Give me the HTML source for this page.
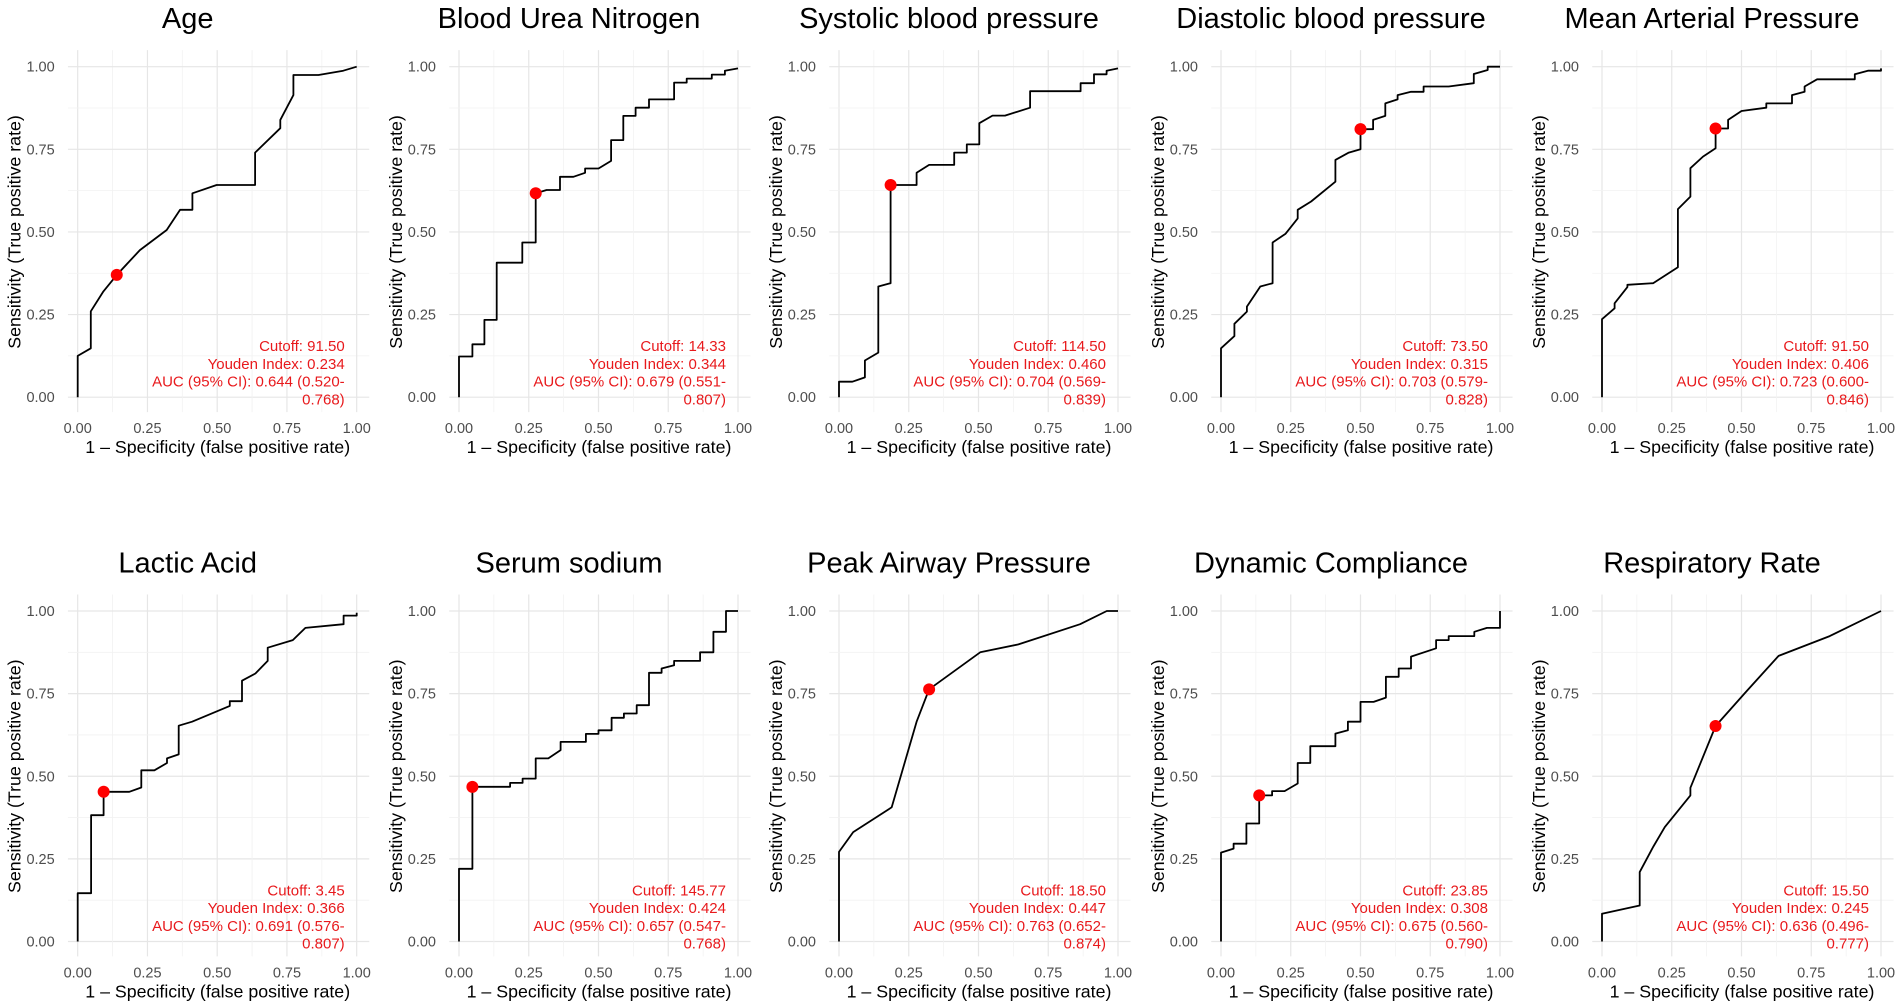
<!DOCTYPE html>
<html><head><meta charset="utf-8"><style>
html,body{margin:0;padding:0;background:#fff;}
svg{display:block;font-family:"Liberation Sans",sans-serif;}
</style></head><body>
<svg id="chart" width="1902" height="1007" viewBox="0 0 1902 1007" xmlns="http://www.w3.org/2000/svg"></svg>
<script>
const titles = ["Age","Blood Urea Nitrogen","Systolic blood pressure","Diastolic blood pressure","Mean Arterial Pressure","Lactic Acid","Serum sodium","Peak Airway Pressure","Dynamic Compliance","Respiratory Rate"];
const rocAge = [[0,0],[0,.125],[.047,.148],[.047,.26],[.092,.32],[.14,.37],[.223,.445],[.319,.506],[.367,.567],[.411,.567],[.411,.617],[.498,.642],[.636,.642],[.636,.74],[.726,.814],[.726,.839],[.773,.914],[.773,.975],[.863,.975],[.952,.988],[1,1]];
const rocBUN = [[0,0],[0,.123],[.048,.123],[.048,.16],[.091,.16],[.091,.234],[.135,.234],[.135,.407],[.227,.407],[.227,.468],[.275,.468],[.275,.617],[.314,.627],[.362,.627],[.362,.667],[.41,.667],[.452,.679],[.452,.692],[.5,.692],[.545,.715],[.545,.778],[.589,.778],[.589,.851],[.633,.851],[.633,.876],[.681,.876],[.681,.901],[.771,.901],[.771,.952],[.816,.952],[.816,.964],[.906,.964],[.906,.976],[.953,.976],[.953,.988],[1,.995]];
const rocSBP = [[0,0],[0,.047],[.048,.047],[.093,.06],[.093,.111],[.141,.135],[.141,.335],[.185,.345],[.185,.642],[.278,.642],[.278,.679],[.323,.703],[.413,.703],[.413,.74],[.458,.74],[.458,.765],[.503,.765],[.503,.829],[.55,.852],[.595,.852],[.685,.876],[.685,.926],[.866,.926],[.866,.95],[.914,.95],[.914,.977],[.959,.977],[.959,.988],[1,.995]];
const rocDBP = [[0,0],[0,.148],[.048,.185],[.048,.222],[.093,.259],[.093,.274],[.141,.335],[.141,.335],[.185,.345],[.185,.468],[.231,.494],[.275,.541],[.275,.567],[.323,.592],[.41,.652],[.41,.718],[.458,.74],[.5,.75],[.5,.811],[.545,.811],[.545,.839],[.589,.851],[.589,.889],[.633,.901],[.633,.914],[.681,.924],[.726,.924],[.726,.94],[.816,.94],[.906,.95],[.906,.978],[.956,.99],[.956,1],[1,1]];
const rocMAP = [[0,0],[0,.236],[.045,.269],[.045,.284],[.091,.333],[.091,.34],[.183,.345],[.272,.393],[.272,.569],[.317,.607],[.317,.693],[.362,.728],[.407,.753],[.407,.813],[.452,.813],[.452,.839],[.5,.866],[.589,.876],[.589,.889],[.681,.889],[.681,.914],[.726,.924],[.726,.94],[.771,.962],[.906,.962],[.906,.977],[.953,.988],[1,.988],[1,.995]];
const rocLactic = [[0,0],[0,.146],[.048,.146],[.048,.382],[.093,.382],[.093,.453],[.185,.453],[.228,.466],[.228,.518],[.275,.518],[.32,.54],[.32,.554],[.362,.566],[.362,.653],[.41,.665],[.545,.713],[.545,.727],[.589,.727],[.589,.789],[.637,.811],[.681,.849],[.681,.889],[.771,.912],[.816,.949],[.953,.96],[.953,.986],[1,.986],[1,.995]];
const rocSodium = [[0,0],[0,.22],[.048,.22],[.048,.468],[.183,.468],[.183,.48],[.228,.48],[.228,.493],[.275,.493],[.275,.554],[.32,.554],[.364,.579],[.364,.604],[.455,.604],[.455,.628],[.5,.628],[.5,.639],[.547,.639],[.547,.677],[.591,.677],[.591,.69],[.637,.69],[.637,.715],[.681,.715],[.681,.813],[.726,.813],[.726,.826],[.771,.836],[.771,.849],[.864,.849],[.864,.875],[.912,.875],[.912,.937],[.957,.937],[.957,1],[1,1]];
const rocPeak = [[0,0],[0,.271],[.051,.331],[.189,.406],[.278,.665],[.323,.763],[.506,.875],[.643,.899],[.864,.96],[.96,1],[1,1]];
const rocDyn = [[0,0],[0,.269],[.045,.281],[.045,.296],[.091,.296],[.091,.357],[.137,.357],[.137,.442],[.183,.442],[.183,.455],[.228,.455],[.275,.478],[.275,.54],[.32,.54],[.32,.591],[.41,.591],[.41,.629],[.455,.639],[.455,.665],[.5,.665],[.5,.725],[.547,.725],[.591,.738],[.591,.801],[.637,.801],[.637,.826],[.681,.826],[.681,.862],[.771,.887],[.771,.912],[.816,.912],[.816,.924],[.908,.924],[.908,.937],[.953,.949],[1,.949],[1,1]];
const rocResp = [[0,0],[0,.084],[.135,.109],[.135,.21],[.183,.286],[.225,.346],[.317,.442],[.317,.465],[.407,.652],[.517,.756],[.633,.864],[.816,.924],[1,1]];
const curves = [rocAge,rocBUN,rocSBP,rocDBP,rocMAP,rocLactic,rocSodium,rocPeak,rocDyn,rocResp];
const cutoffFpr = [.14,.275,.185,.5,.407,.093,.048,.323,.137,.407];
const cutoffTpr = [.37,.617,.642,.811,.813,.453,.468,.763,.442,.652];
const cutoffLabels = ["91.50","14.33","114.50","73.50","91.50","3.45","145.77","18.50","23.85","15.50"];
const youdenLabels = ["0.234","0.344","0.460","0.315","0.406","0.366","0.424","0.447","0.308","0.245"];
const aucLabels = ["0.644","0.679","0.704","0.703","0.723","0.691","0.657","0.763","0.675","0.636"];
const ciLow = ["0.520","0.551","0.569","0.579","0.600","0.576","0.547","0.652","0.560","0.496"];
const ciHigh = ["0.768","0.807","0.839","0.828","0.846","0.807","0.768","0.874","0.790","0.777"];
const tickVals = [0,0.25,0.5,0.75,1];
const tickLabels = ["0.00","0.25","0.50","0.75","1.00"];

const NS="http://www.w3.org/2000/svg";
const svg=document.getElementById('chart');
const colX0=[77.7,459,839,1221,1602];
const rowY1=[66.7,611];
const W=279, H=330.5;
function mk(tag,attrs,parent){const e=document.createElementNS(NS,tag);for(const k in attrs)e.setAttribute(k,attrs[k]);parent.appendChild(e);return e;}

curves.forEach((pts,i)=>{
  const x0=colX0[i%5], y1=rowY1[Math.floor(i/5)];
  const sx=d=>x0+d*W, sy=v=>y1+(1-v)*H;
  const g=mk('g',{},svg);
  
  
  const gl=-0.035, gr=1.045, gb=-0.045, gt=1.05;
  for(let k=0;k<=8;k++){
    const t=k*0.125; const major=k%2===0;
    const vl=mk('line',{x1:sx(t),x2:sx(t),y1:sy(gt),y2:sy(gb),stroke:major?'#e6e6e6':'#f2f2f2','stroke-width':major?1.2:0.8},g);
    
    
    const hl=mk('line',{x1:sx(gl),x2:sx(gr),y1:sy(t),y2:sy(t),stroke:major?'#e6e6e6':'#f2f2f2','stroke-width':major?1.2:0.8},g);
    
    
  }
  tickVals.forEach((t,j)=>{
    const xt=mk('text',{x:sx(t),y:y1+H+36,'text-anchor':'middle','font-size':14.5,fill:'#4d4d4d'},g);
    xt.textContent=tickLabels[j];
    
    
    const yt=mk('text',{x:x0-23,y:sy(t)+5,'text-anchor':'end','font-size':14.5,fill:'#4d4d4d'},g);
    yt.textContent=tickLabels[j];
    
    
  });
  const title=mk('text',{x:x0+110,y:y1-38.5,'text-anchor':'middle','font-size':29,fill:'#000'},g);
  title.textContent=titles[i];
  
  
  const xa=mk('text',{x:x0+140,y:y1+H+56,'text-anchor':'middle','font-size':17.8,fill:'#000'},g);
  xa.textContent='1 – Specificity (false positive rate)';
  
  
  const ya=mk('text',{x:0,y:0,'text-anchor':'middle','font-size':17.8,fill:'#000',transform:`translate(${x0-57},${y1+H/2}) rotate(-90)`},g);
  ya.textContent='Sensitivity (True positive rate)';
  
  
  const line=mk('polyline',{points:pts.map(p=>sx(p[0]).toFixed(1)+','+sy(p[1]).toFixed(1)).join(' '),fill:'none',stroke:'#000','stroke-width':1.8,'stroke-linejoin':'round'},g);
  
  
  const dot=mk('circle',{cx:sx(cutoffFpr[i]),cy:sy(cutoffTpr[i]),r:6,fill:'#ff0000'},g);
  
  
  const lines=['Cutoff: '+cutoffLabels[i],'Youden Index: '+youdenLabels[i],'AUC (95% CI): '+aucLabels[i]+' ('+ciLow[i]+'-',ciHigh[i]+')'];
  lines.forEach((s,j)=>{
    const t=mk('text',{x:x0+267,y:y1+284.5+j*17.7,'text-anchor':'end','font-size':15,fill:'#e8191c'},g);
    t.textContent=s;
    
    
  });
});
</script>
</body></html>
